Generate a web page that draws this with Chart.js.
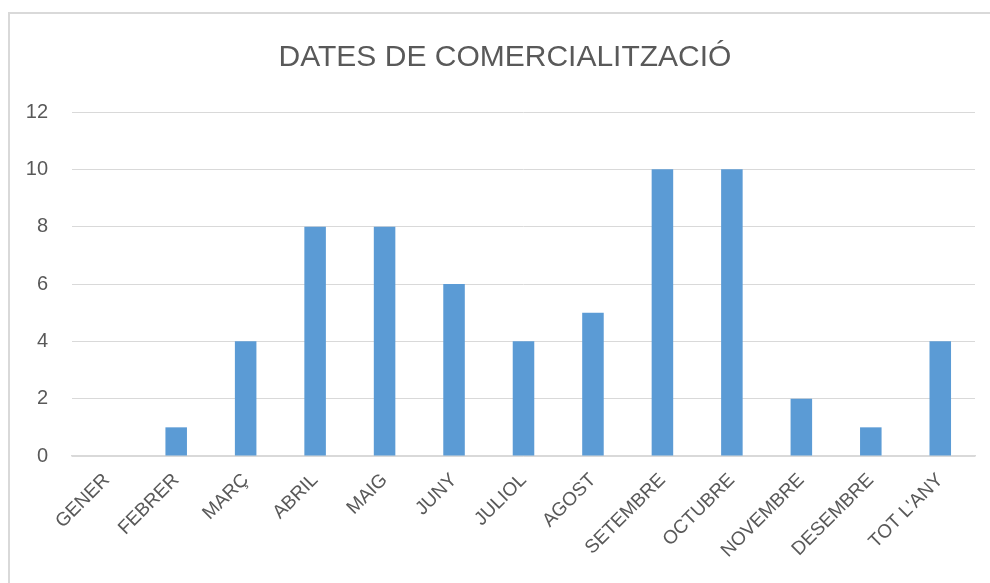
<!DOCTYPE html>
<html>
<head>
<meta charset="utf-8">
<script src="https://cdn.jsdelivr.net/npm/chart.js@4.4.0/dist/chart.umd.min.js"></script>
<style>
  html, body { margin: 0; padding: 0; background: #fff; }
  #wrap { position: relative; width: 990px; height: 583px; overflow: hidden; }
  #frame { position: absolute; left: 8px; top: 12px; width: 1000px; height: 600px; border: 2px solid #d9d9d9; }
  #chart { position: absolute; left: 0; top: 0; }
</style>
</head>
<body>
<div id="wrap">
  <div id="frame"></div>
  <canvas id="chart" width="990" height="583"></canvas>
</div>
<script>
// months + whole year
const months = ['GENER', 'FEBRER', 'MARÇ', 'ABRIL', 'MAIG', 'JUNY', 'JULIOL', 'AGOST', 'SETEMBRE', 'OCTUBRE', 'NOVEMBRE', 'DESEMBRE', "TOT L'ANY"];
const counts = [0, 1, 4, 8, 8, 6, 4, 5, 10, 10, 2, 1, 4];
const yTicks = [0, 2, 4, 6, 8, 10, 12];
const chartTitle = 'DATES DE COMERCIALITZACIÓ';

const textColor = '#595959';
const gridColor = '#d9d9d9';
const fontFamily = '"Liberation Sans", Arial, sans-serif';

// title is drawn by hand: the original is centred a bit off the canvas middle
const titlePlugin = {
  id: 'offsetTitle',
  afterDraw(chart) {
    const c = chart.ctx;
    c.save();
    c.font = '30px ' + fontFamily;
    c.fillStyle = textColor;
    c.textAlign = 'center';
    c.textBaseline = 'middle';
    c.fillText(chartTitle, 505, 58);
    c.restore();
  },
};

const ctx = document.getElementById('chart').getContext('2d');
new Chart(ctx, {
  type: 'bar',
  data: {
    labels: months,
    datasets: [{
      data: counts,
      backgroundColor: '#5b9bd5',
      barPercentage: 0.31,
      categoryPercentage: 1,
    }],
  },
  options: {
    responsive: false,
    animation: false,
    layout: { padding: { left: 8, right: 15, top: 112, bottom: 8 } },
    plugins: {
      legend: { display: false },
      tooltip: { enabled: false },
      title: { display: false },
    },
    scales: {
      x: {
        grid: { display: false },
        border: { display: true, color: gridColor, width: 1.5 },
        ticks: {
          color: textColor,
          font: { family: fontFamily, size: 19 },
          minRotation: 45,
          maxRotation: 45,
          autoSkip: false,
          padding: 5,
        },
        afterFit: (scale) => { scale.height = 119; },
      },
      y: {
        min: 0,
        max: 12,
        afterBuildTicks: (scale) => { scale.ticks = yTicks.map((v) => ({ value: v })); },
        grid: { color: gridColor, drawTicks: false },
        border: { display: false },
        ticks: {
          color: textColor,
          font: { family: fontFamily, size: 20 },
          padding: 24,
        },
        afterFit: (scale) => { scale.width = 64; },
      },
    },
  },
  plugins: [titlePlugin],
});
</script>
</body>
</html>
